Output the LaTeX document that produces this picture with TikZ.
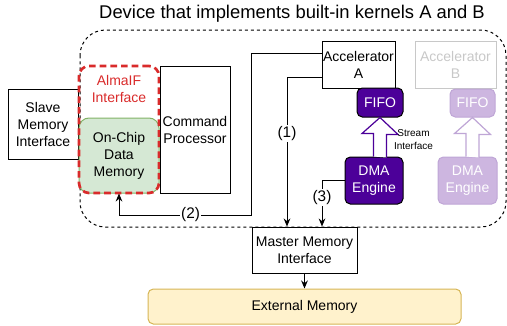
\documentclass[tikz,border=0pt]{standalone}
\usepackage{fontspec}
\setmainfont{Liberation Sans}
\usetikzlibrary{arrows.meta,positioning,calc}

\definecolor{dmapurple}{HTML}{4C0099}
\definecolor{lightpurple}{HTML}{CDB6E0}
\definecolor{lightpurpleline}{HTML}{BFA6D6}
\definecolor{almared}{HTML}{D92B2B}
\definecolor{memgreen}{HTML}{D5E8D4}
\definecolor{memgreenline}{HTML}{82B366}
\definecolor{extyellow}{HTML}{FFF2CC}
\definecolor{extyellowline}{HTML}{D6B656}
\definecolor{ghost}{HTML}{C8C8C8}

\begin{document}
\begin{tikzpicture}[x=0.75pt,y=-0.75pt,line width=0.75pt,
  font=\fontsize{10.5}{12.75}\selectfont,
  box/.style={draw, align=center, inner sep=0pt},
  dma/.style={box, draw=black, fill=dmapurple, text=white, rounded corners=4pt},
  ghostdma/.style={box, draw=lightpurpleline, fill=lightpurple, text=white, rounded corners=4pt},
  stream/.style={draw=#1, fill=white, line width=0.9pt},
  conn/.style={draw, -{Stealth[length=6pt,width=5pt]}},
  tag/.style={fill=white, inner sep=1pt, font=\fontsize{11.5}{13}\selectfont},
]
\useasboundingbox (0,0) rectangle (507,325);

\node (title) at (292,14) {\fontsize{13.8}{16}\selectfont Device that implements built-in kernels A and B};
\draw[dash pattern=on 2.25pt off 2.25pt, rounded corners=19pt] (80,30) rectangle (506,227);

\node[box, minimum width=52.5pt, minimum height=52.5pt] (slave) at (43,124) {Slave\\Memory\\Interface};
\node[box, fill=memgreen, draw=memgreenline, rounded corners=7.5pt, minimum width=60pt, minimum height=56.25pt] (onchip) at (119,155.5) {On-Chip\\Data\\Memory};
\node[box, draw=almared, line width=2pt, dash pattern=on 5pt off 3pt, rounded corners=7.5pt, minimum width=60pt, minimum height=95.25pt] (almaif) at (119,129.5) {};
\node[text=almared, align=center] (almalabel) at (119,89) {AlmaIF\\Interface};
\node[box, minimum width=52.5pt, minimum height=95.25pt] (cmd) at (195,129.5) {Command\\Processor};

\node[box, minimum width=54.75pt, minimum height=35.25pt] (acca) at (358.5,64.5) {Accelerator\\A};
\node[dma, minimum width=34.5pt, minimum height=21.75pt] (fifoa) at (380,102.5) {FIFO};
\node[dma, minimum width=43.5pt, minimum height=35.25pt] (dmaa) at (374,180.5) {DMA\\Engine};

\node[box, draw=ghost, text=ghost, minimum width=60.75pt, minimum height=35.25pt] (accb) at (455.5,64.5) {Accelerator\\B};
\node[ghostdma, minimum width=33.75pt, minimum height=21pt] (fifob) at (472.5,103) {FIFO};
\node[ghostdma, minimum width=44.25pt, minimum height=35.25pt] (dmab) at (467.5,180.5) {DMA\\Engine};

\draw[stream=dmapurple] (fifoa.south |- dmaa.north) ++(-6.5,0) -- ++(0,-23) -- ++(-11.5,0) -- (fifoa.south) -- ++(18,17) -- ++(-11.5,0) -- ++(0,23);
\draw[stream=lightpurpleline] (fifob.south |- dmab.north) ++(-6.5,0) -- ++(0,-23) -- ++(-11.5,0) -- (fifob.south) -- ++(18,17) -- ++(-11.5,0) -- ++(0,23);
\node[align=center, font=\fontsize{7.5}{9.75}\selectfont] (streamlabel) at (413.5,139.5) {Stream\\Interface};

\node[box, minimum width=78.75pt, minimum height=34.5pt] (master) at (304.5,250) {Master Memory\\Interface};
\node[box, fill=extyellow, draw=extyellowline, rounded corners=4pt, minimum width=234.75pt, minimum height=26.25pt] (extmem) at (304.5,306.5) {External Memory};

\draw[conn] ([yshift=-9.375pt]acca.west) -| node[tag, pos=0.69] {(1)} ([xshift=-13.125pt]master.north);
\draw[conn] ([yshift=8.625pt]acca.west) -- ++(-70,0) -- ++(0,162) -| node[tag, pos=0.23] {(2)} (onchip.south);
\draw[conn] (dmaa.west) -| node[tag, pos=0.68] {(3)} ([xshift=13.125pt]master.north);
\draw[conn] (master) -- (extmem);

\end{tikzpicture}
\end{document}
